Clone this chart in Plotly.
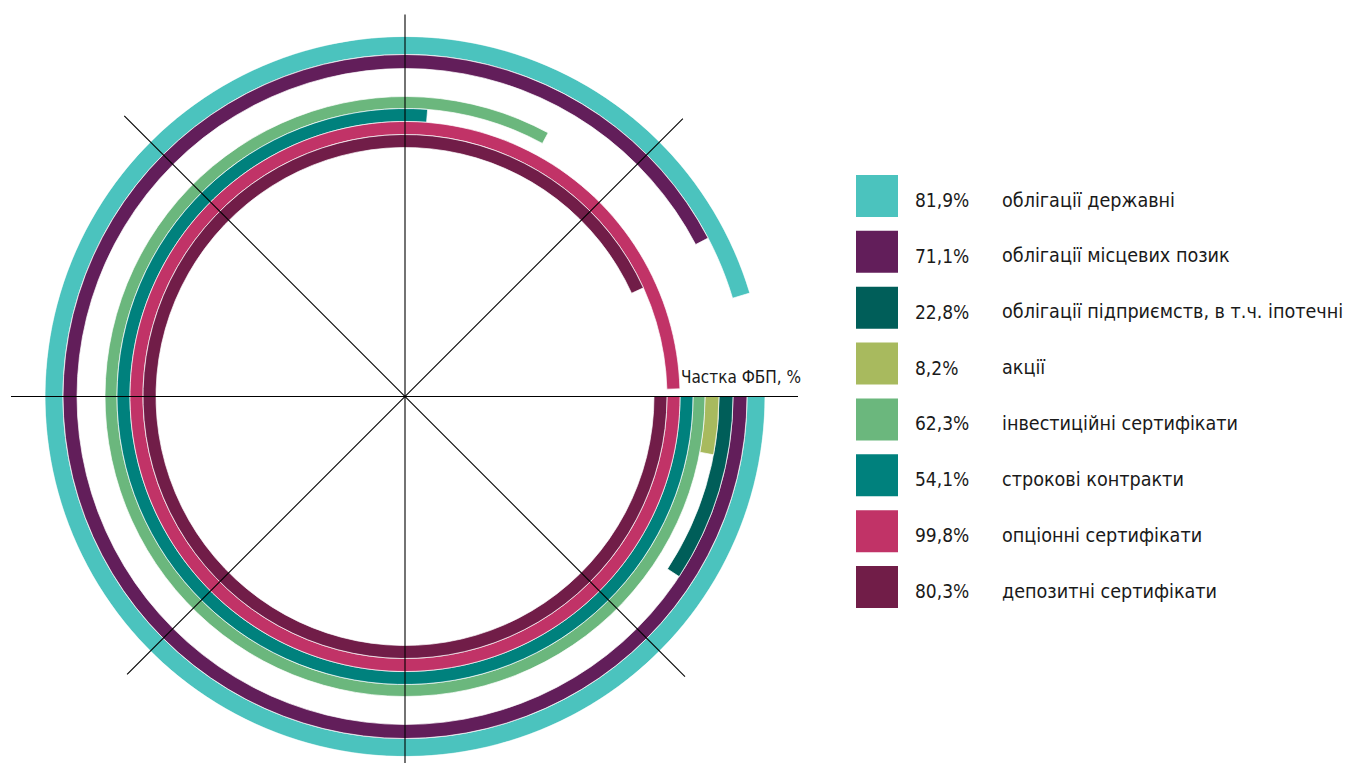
import math
import plotly.graph_objects as go

# ---------------- data ----------------
categories = [
    "облігації державні",
    "облігації місцевих позик",
    "облігації підприємств, в т.ч. іпотечні",
    "акції",
    "інвестиційні сертифікати",
    "строкові контракти",
    "опціонні сертифікати",
    "депозитні сертифікати",
]
shares = [81.9, 71.1, 22.8, 8.2, 62.3, 54.1, 99.8, 80.3]
# arc sweep (degrees, clockwise from 3 o'clock) as drawn in the reference
arc_deg = [343.3, 332.4, 33.3, 10.7, 298.5, 274.5, 358.4, 335.5]
colors = ["#4BC3BE", "#621E5A", "#005E59", "#A8BA5E", "#6BB77D", "#00817D", "#C13367", "#711D48"]

# ---------------- layout parameters ----------------
W, H = 1346, 763
CX, CY = 405, 396.5          # centre of the rings (px from top-left)
R_MAX = 360                  # outer radius of the outermost ring (px)
ring_edges = [360, 342, 328, 314, 300, 288, 275, 262, 249]  # outer->inner ring boundaries
# decorative cross lines: (angle clockwise from east, length a, length b in opposite direction)
cross = [(0, 393, 394), (90, 400, 382), (45, 396, 397), (135, 393, 393)]

FONT = "Liberation Sans Narrow, DejaVu Sans Condensed, sans-serif"

fig = go.Figure()

for i, (cat, sweep, col) in enumerate(zip(categories, arc_deg, colors)):
    outer, inner = ring_edges[i], ring_edges[i + 1]
    fig.add_trace(go.Barpolar(
        r=[outer - inner], base=[inner], theta=[sweep / 2], width=[sweep],
        marker=dict(color=col, line=dict(color="white", width=0.7)),
        name=cat, showlegend=False, hoverinfo="skip",
    ))

fig.update_layout(
    width=W, height=H, margin=dict(l=0, r=0, t=0, b=0),
    paper_bgcolor="white", plot_bgcolor="white",
    polar=dict(
        domain=dict(x=[(CX - R_MAX) / W, (CX + R_MAX) / W],
                    y=[(H - CY - R_MAX) / H, (H - CY + R_MAX) / H]),
        bgcolor="rgba(0,0,0,0)",
        radialaxis=dict(range=[0, R_MAX], visible=False, showgrid=False),
        angularaxis=dict(direction="clockwise", rotation=0, visible=False, showgrid=False),
        bargap=0,
    ),
)

# cross lines drawn above the rings
for ang, la, lb in cross:
    a = math.radians(ang)
    x0, y0 = CX + la * math.cos(a), CY + la * math.sin(a)
    x1, y1 = CX - lb * math.cos(a), CY - lb * math.sin(a)
    fig.add_shape(type="line", xref="paper", yref="paper", layer="above",
                  x0=x0 / W, y0=1 - y0 / H, x1=x1 / W, y1=1 - y1 / H,
                  line=dict(color="black", width=1.1))

# ---------------- custom legend ----------------
ROW0, ROW_STEP = 196, 55.86
n = len(categories)
y_top = -ROW0 / ROW_STEP
y_bot = (H - ROW0) / ROW_STEP
fig.update_layout(
    xaxis=dict(domain=[0, 1], range=[0, W], visible=False, fixedrange=True),
    yaxis=dict(domain=[0, 1], range=[y_bot, y_top], visible=False, fixedrange=True),
)
rows = list(range(n))
fig.add_trace(go.Scatter(
    x=[877] * n, y=rows, mode="markers",
    marker=dict(symbol="square", size=42, color=colors, line=dict(width=0)),
    showlegend=False, hoverinfo="skip",
))
for i in rows:
    pct = f"{shares[i]:.1f}%".replace(".", ",")
    fig.add_annotation(x=913, y=i, xref="x", yref="y", text=pct, showarrow=False,
                       xanchor="left", yanchor="middle", yshift=-4,
                       font=dict(family=FONT, size=19, color="#1a1a1a"))
    fig.add_annotation(x=1000, y=i, xref="x", yref="y", text=categories[i], showarrow=False,
                       xanchor="left", yanchor="middle", yshift=-4,
                       font=dict(family=FONT, size=19.6, color="#1a1a1a"))

fig.add_annotation(x=679 / W, y=1 - 377 / H, xref="paper", yref="paper",
                   text="Частка ФБП, %", showarrow=False, xanchor="left", yanchor="middle",
                   font=dict(family=FONT, size=17, color="#1a1a1a"))

fig.write_html("out.html", config={"displayModeBar": False},
               post_script="document.body.style.margin='0px';")
